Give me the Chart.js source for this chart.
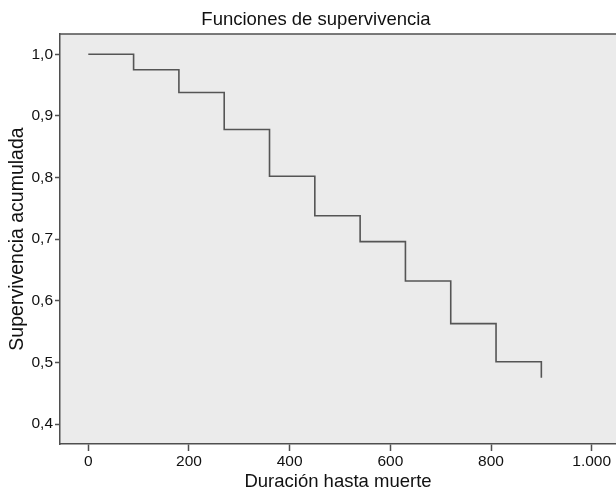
<!DOCTYPE html>
<html>
<head>
<meta charset="utf-8">
<script src="https://cdn.jsdelivr.net/npm/chart.js@4.4.1/dist/chart.umd.min.js"></script>
<style>
  html, body { margin: 0; padding: 0; background: #fff; }
  #chart { display: block; }
</style>
</head>
<body>
<canvas id="chart" width="616" height="490"></canvas>
<script>
// survival steps: time (days) and cumulative survival
const days = [0, 90, 180, 270, 360, 450, 540, 630, 720, 810, 900];
const survival = [1.0, 0.975, 0.938, 0.878, 0.802, 0.738, 0.696, 0.632, 0.563, 0.501, 0.475];

const xTicks = [0, 200, 400, 600, 800, 1000];
const xTickLabels = ["0", "200", "400", "600", "800", "1.000"];
const yTicks = [0.4, 0.5, 0.6, 0.7, 0.8, 0.9, 1.0];
const yTickLabels = ["0,4", "0,5", "0,6", "0,7", "0,8", "0,9", "1,0"];

const chartTitle = "Funciones de supervivencia";
const xTitle = "Duración hasta muerte";
const yTitle = "Supervivencia acumulada";

const FONT = "'Liberation Sans', Arial, Helvetica, sans-serif";
const INK = "#4f4f4f";

// grey plot background, top frame line and the title
const frame = {
  id: "frame",
  beforeDraw(chart) {
    const { ctx, chartArea: a } = chart;
    ctx.save();
    ctx.fillStyle = "#ebebeb";
    ctx.fillRect(a.left, a.top, a.right - a.left, a.bottom - a.top);
    ctx.strokeStyle = INK;
    ctx.lineWidth = 1.5;
    ctx.beginPath();
    ctx.moveTo(a.left, a.top);
    ctx.lineTo(a.right, a.top);
    ctx.stroke();
    ctx.fillStyle = "#111";
    ctx.font = "18.5px " + FONT;
    ctx.textAlign = "center";
    ctx.textBaseline = "middle";
    ctx.fillText(chartTitle, 316, 20);
    ctx.restore();
  }
};

new Chart(document.getElementById("chart"), {
  type: "scatter",
  data: {
    datasets: [{
      data: days.map((d, i) => ({ x: d, y: survival[i] })),
      showLine: true,
      stepped: "before",
      borderColor: "#555",
      borderWidth: 1.6,
      pointRadius: 0,
      fill: false
    }]
  },
  options: {
    responsive: false,
    animation: false,
    devicePixelRatio: 1,
    layout: { padding: { top: 34, left: 0, right: 0, bottom: 0 } },
    plugins: {
      legend: { display: false },
      tooltip: { enabled: false }
    },
    scales: {
      x: {
        type: "linear",
        min: -56.2,
        max: 1048.3,
        afterFit: (s) => { s.height = 46; },
        afterBuildTicks: (s) => { s.ticks = xTicks.map(v => ({ value: v })); },
        ticks: {
          callback: (v) => xTickLabels[xTicks.indexOf(v)],
          font: { family: FONT, size: 15.5 },
          color: "#111",
          padding: 1,
          maxRotation: 0
        },
        grid: { drawOnChartArea: false, drawTicks: true, tickLength: 7, tickWidth: 1.5, color: INK },
        border: { display: true, color: INK, width: 1.5 },
        title: {
          display: true,
          text: xTitle,
          color: "#111",
          font: { family: FONT, size: 18.5, lineHeight: 0.9 },
          padding: { top: 0, bottom: 0 }
        }
      },
      y: {
        type: "linear",
        min: 0.3676,
        max: 1.0329,
        afterFit: (s) => { s.width = 60; },
        afterBuildTicks: (s) => { s.ticks = yTicks.map(v => ({ value: v })); },
        ticks: {
          callback: (v) => yTickLabels[yTicks.findIndex(t => Math.abs(t - v) < 1e-6)],
          font: { family: FONT, size: 15.5 },
          color: "#111",
          padding: 2
        },
        grid: { drawOnChartArea: false, drawTicks: true, tickLength: 5, tickWidth: 1.5, color: INK },
        border: { display: true, color: INK, width: 1.5 },
        title: {
          display: true,
          text: yTitle,
          color: "#111",
          font: { family: FONT, size: 19.5, lineHeight: 1.2 },
          padding: { top: 6, bottom: 0 }
        }
      }
    }
  },
  plugins: [frame]
});
</script>
</body>
</html>
